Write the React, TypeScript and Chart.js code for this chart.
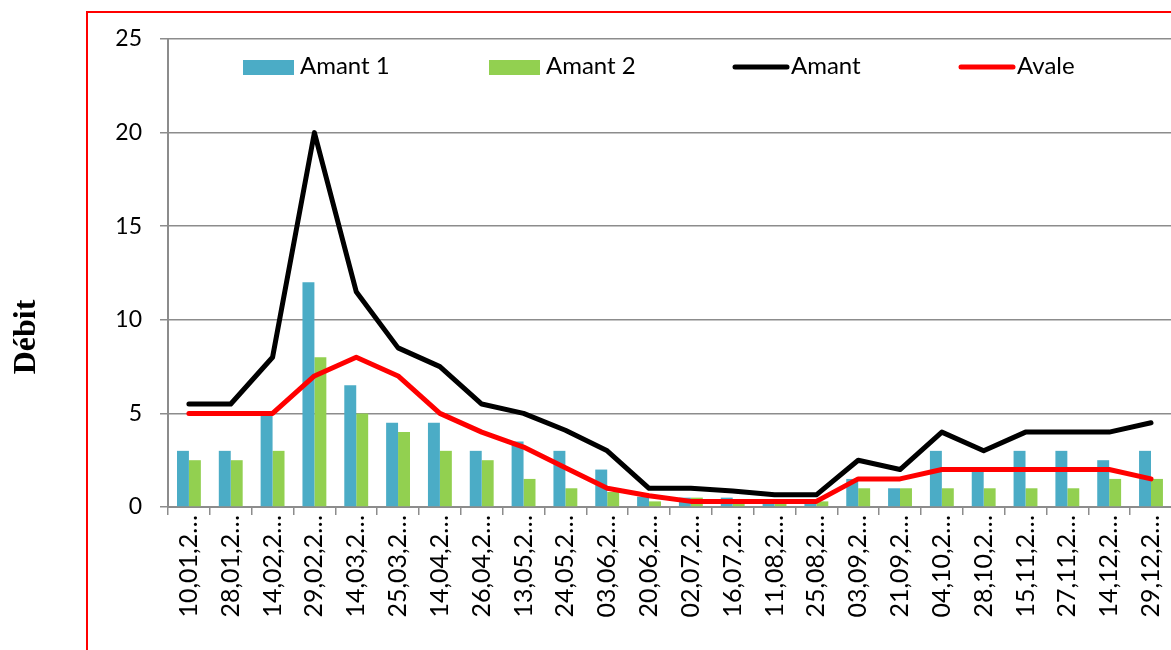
import React, { useEffect, useRef } from "react";
import { Chart, registerables } from "chart.js";

Chart.register(...registerables);

const categories = [
  "10,01,2…", "28,01,2…", "14,02,2…", "29,02,2…", "14,03,2…", "25,03,2…",
  "14,04,2…", "26,04,2…", "13,05,2…", "24,05,2…", "03,06,2…", "20,06,2…",
  "02,07,2…", "16,07,2…", "11,08,2…", "25,08,2…", "03,09,2…", "21,09,2…",
  "04,10,2…", "28,10,2…", "15,11,2…", "27,11,2…", "14,12,2…", "29,12,2…",
];

const amant1 = [3, 3, 5, 12, 6.5, 4.5, 4.5, 3, 3.5, 3, 2, 0.55, 0.5, 0.5, 0.2, 0.2, 1.5, 1, 3, 2, 3, 3, 2.5, 3];
const amant2 = [2.5, 2.5, 3, 8, 5, 4, 3, 2.5, 1.5, 1, 0.8, 0.3, 0.5, 0.2, 0.2, 0.3, 1, 1, 1, 1, 1, 1, 1.5, 1.5];
const amant = [5.5, 5.5, 8, 20, 11.5, 8.5, 7.5, 5.5, 5, 4.1, 3, 1, 1, 0.85, 0.65, 0.65, 2.5, 2, 4, 3, 4, 4, 4, 4.5];
const avale = [5, 5, 5, 7, 8, 7, 5, 4, 3.2, 2.1, 1, 0.6, 0.3, 0.3, 0.3, 0.3, 1.5, 1.5, 2, 2, 2, 2, 2, 1.5];

const yTicks = [0, 5, 10, 15, 20, 25];
const yTitle = "Débit";

const FONT = "Lato, 'Liberation Sans', sans-serif";
const GRID = "#8c8c8c";
const CANVAS_W = 1181;
const CANVAS_H = 650;

export default function App() {
  const ref = useRef<HTMLCanvasElement>(null);

  useEffect(() => {
    if (!ref.current) return;

    const excelLegend = {
      id: "excelLegend",
      afterDraw(chart: any) {
        const { ctx, chartArea } = chart;
        const slots = [75, 321, 565, 791];
        ctx.save();
        chart.data.datasets.forEach((ds: any, i: number) => {
          const x = chartArea.left + slots[i];
          if (ds.type === "line") {
            ctx.strokeStyle = ds.borderColor;
            ctx.lineWidth = 5;
            ctx.lineCap = "round";
            ctx.beginPath();
            ctx.moveTo(x + 2, 67);
            ctx.lineTo(x + 54, 67);
            ctx.stroke();
          } else {
            ctx.fillStyle = ds.backgroundColor;
            ctx.fillRect(x, 60, 51, 15);
          }
          ctx.fillStyle = "#000";
          ctx.font = `24px ${FONT}`;
          ctx.textAlign = "left";
          ctx.textBaseline = "alphabetic";
          ctx.fillText(ds.label, x + (ds.type === "line" ? 58 : 57), 74);
        });
        // y axis title
        ctx.translate(35, 337);
        ctx.rotate(-Math.PI / 2);
        ctx.font = "bold 32px 'Liberation Serif', serif";
        ctx.textAlign = "center";
        ctx.textBaseline = "alphabetic";
        ctx.fillStyle = "#000";
        ctx.fillText(yTitle, 0, 0);
        ctx.restore();
      },
    };

    const chart = new Chart(ref.current, {
      type: "bar",
      data: {
        labels: categories,
        datasets: [
          {
            type: "bar",
            label: "Amant 1",
            data: amant1,
            backgroundColor: "#4BACC6",
            borderWidth: 0,
            categoryPercentage: 0.571,
            barPercentage: 1,
            order: 2,
          },
          {
            type: "bar",
            label: "Amant 2",
            data: amant2,
            backgroundColor: "#92D050",
            borderWidth: 0,
            categoryPercentage: 0.571,
            barPercentage: 1,
            order: 2,
          },
          {
            type: "line",
            label: "Amant",
            data: amant,
            borderColor: "#000000",
            backgroundColor: "#000000",
            borderWidth: 5,
            pointRadius: 0,
            tension: 0,
            borderCapStyle: "round",
            borderJoinStyle: "round",
            order: 1,
          },
          {
            type: "line",
            label: "Avale",
            data: avale,
            borderColor: "#FF0000",
            backgroundColor: "#FF0000",
            borderWidth: 5,
            pointRadius: 0,
            tension: 0,
            borderCapStyle: "round",
            borderJoinStyle: "round",
            order: 0,
          },
        ] as any,
      },
      options: {
        animation: false,
        responsive: false,
        devicePixelRatio: 1,
        layout: { padding: { top: 39, left: 0, right: 0, bottom: 0 } },
        plugins: {
          legend: { display: false },
          tooltip: { enabled: false },
        },
        scales: {
          x: {
            offset: true,
            ticks: {
              minRotation: 90,
              maxRotation: 90,
              autoSkip: false,
              color: "#000",
              font: { family: FONT, size: 25 },
              padding: 0,
            },
            grid: {
              offset: true,
              drawOnChartArea: false,
              drawTicks: true,
              tickLength: 8,
              color: GRID,
              lineWidth: 1.5,
            },
            border: { color: GRID, width: 2 },
            afterFit: (s: any) => {
              s.height = 143;
            },
          },
          y: {
            min: 0,
            max: 25,
            afterBuildTicks: (s: any) => {
              s.ticks = yTicks.map((v) => ({ value: v }));
            },
            ticks: {
              color: "#000",
              font: { family: FONT, size: 23 },
              padding: 18,
            },
            grid: {
              color: GRID,
              lineWidth: 1.5,
              tickLength: 8,
              drawTicks: true,
            },
            border: { color: GRID, width: 2 },
            afterFit: (s: any) => {
              s.width = 168;
            },
          },
        },
      } as any,
      plugins: [excelLegend],
    });

    return () => chart.destroy();
  }, []);

  return (
    <div
      style={{
        position: "absolute",
        left: 0,
        top: 0,
        width: 1171,
        height: 650,
        overflow: "hidden",
        background: "#fff",
      }}
    >
      <canvas
        ref={ref}
        width={CANVAS_W}
        height={CANVAS_H}
        style={{ position: "absolute", left: 0, top: 0, width: CANVAS_W, height: CANVAS_H }}
      />
      <div
        style={{
          position: "absolute",
          left: 86,
          top: 11,
          width: 1200,
          height: 700,
          border: "2px solid #ff0000",
          boxSizing: "border-box",
          pointerEvents: "none",
        }}
      />
    </div>
  );
}
